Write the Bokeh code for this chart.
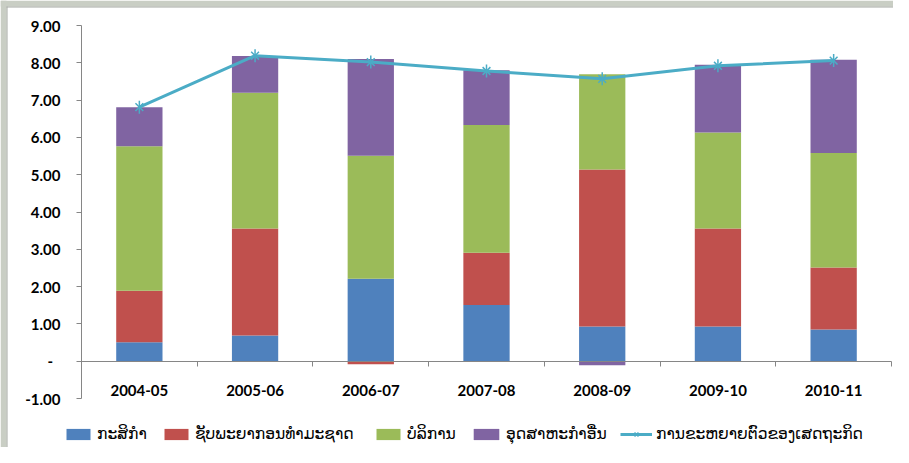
import numpy as np
from bokeh.plotting import figure
from bokeh.models import Range1d, FixedTicker, Legend, LegendItem, BoxAnnotation
from bokeh.embed import file_html
from bokeh.resources import INLINE

# ---- data ----
categories = ["2004-05", "2005-06", "2006-07", "2007-08", "2008-09", "2009-10", "2010-11"]
agriculture = [0.51, 0.69, 2.21, 1.51, 0.93, 0.93, 0.85]
natural_resources = [1.38, 2.87, -0.08, 1.40, 4.21, 2.63, 1.66]
services = [3.87, 3.64, 3.30, 3.42, 2.55, 2.57, 3.07]
other_industry = [1.05, 0.98, 2.59, 1.47, -0.11, 1.82, 2.50]
gdp_growth = [6.81, 8.19, 8.02, 7.78, 7.57, 7.92, 8.06]

series_names = ["ກະສິກຳ", "ຊັບພະຍາກອນທຳມະຊາດ", "ບໍລິການ", "ອຸດສາຫະກຳອື່ນ"]
line_name = "ການຂະຫຍາຍຕົວຂອງເສດຖະກິດ"
y_min, y_max = -1, 9
y_ticks = [-1, 0, 1, 2, 3, 4, 5, 6, 7, 8, 9]
y_tick_labels = ["-1.00", "-\u2002", "1.00", "2.00", "3.00", "4.00", "5.00",
                 "6.00", "7.00", "8.00", "9.00"]

# ---- style / layout (pixels) ----
bar_colors = ["#4F81BD", "#C0504D", "#9BBB59", "#8064A2"]
line_color = "#4BACC6"
axis_gray = "#868686"
frame_gray = "#C9CEC4"
frame_edge = "#A4A7A2"
tick_font = "Lato"
W, H = 893, 447
axis_left_px = 81          # y axis position
axis_top_px = 25           # y = 9 position
axis_h_px = 373            # height of the -1..9 span
cat_px = (W - axis_left_px - 2) / 7.0
band_px = 6

n = len(categories)
x = np.arange(n) + 0.5

px_per_unit = axis_h_px / (y_max - y_min)
y_top = y_max + axis_top_px / px_per_unit
y_bot = y_max - (H - axis_top_px) / px_per_unit
x_start = -axis_left_px / cat_px
x_end = (W - axis_left_px) / cat_px

p = figure(width=W, height=H,
           x_range=Range1d(x_start, x_end), y_range=Range1d(y_bot, y_top),
           output_backend="svg", toolbar_location=None,
           min_border_left=0, min_border_right=0,
           min_border_top=0, min_border_bottom=0)
p.background_fill_color = "white"
p.border_fill_color = "white"
p.outline_line_color = None
p.xgrid.visible = False
p.ygrid.visible = False

# grey chart-window frame on the top and left edges
bx = band_px / cat_px
by = band_px / px_per_unit
ex = 1 / cat_px
ey = 1 / px_per_unit
for l, r, b, t, c in [
    (x_start, x_start + bx, y_bot, y_top, frame_gray),
    (x_start, x_end, y_top - by, y_top, frame_gray),
    (x_start + bx, x_start + bx + ex, y_bot, y_top - by, frame_edge),
    (x_start + bx, x_end, y_top - by - ey, y_top - by, frame_edge),
]:
    p.add_layout(BoxAnnotation(left=l, right=r, bottom=b, top=t,
                               fill_color=c, fill_alpha=1.0, line_color=None))

# stacked bars (positives and negatives stacked separately, like Excel)
pos = np.zeros(n)
neg = np.zeros(n)
bar_renderers = []
for vals, color in zip([agriculture, natural_resources, services, other_industry], bar_colors):
    v = np.array(vals, dtype=float)
    bottom = np.where(v >= 0, pos, neg)
    top = bottom + v
    pos = np.where(v >= 0, top, pos)
    neg = np.where(v < 0, top, neg)
    r = p.vbar(x=x, bottom=bottom, top=top, width=0.4,
               fill_color=color, line_color=None)
    bar_renderers.append(r)

# growth line with star markers
rl = p.line(x, gdp_growth, line_color=line_color, line_width=3)
rx = p.scatter(x, gdp_growth, marker="x", size=11, line_color=line_color, line_width=1.5)
rd = p.scatter(x, gdp_growth, marker="dash", angle=np.pi / 2, size=13,
               line_color=line_color, line_width=1.5)

# x axis at zero with ticks at category boundaries
xa = p.xaxis[0]
xa.ticker = FixedTicker(ticks=list(x), minor_ticks=list(range(n + 1)))
xa.major_label_overrides = {float(xi): c for xi, c in zip(x, categories)}
xa.fixed_location = 0
xa.bounds = (0, n)
xa.axis_line_color = axis_gray
xa.major_tick_in = 0
xa.major_tick_out = 0
xa.minor_tick_in = 0
xa.minor_tick_out = 5
xa.minor_tick_line_color = axis_gray
xa.major_label_standoff = 19
xa.major_label_text_font = tick_font
xa.major_label_text_font_style = "bold"
xa.major_label_text_font_size = "15px"
xa.major_label_text_color = "black"

ya = p.yaxis[0]
ya.ticker = FixedTicker(ticks=y_ticks)
ya.major_label_overrides = {t: s for t, s in zip(y_ticks, y_tick_labels)}
ya.fixed_location = 0
ya.bounds = (y_min, y_max)
ya.axis_line_color = axis_gray
ya.major_tick_line_color = axis_gray
ya.major_tick_in = 0
ya.major_tick_out = 5
ya.minor_tick_line_color = None
ya.major_label_standoff = 16
ya.major_label_text_font = tick_font
ya.major_label_text_font_style = "bold"
ya.major_label_text_font_size = "15px"
ya.major_label_text_color = "black"

# one legend per item, placed like the original row
legend_x = [63, 161, 373, 470, 620]
legend_glyph_w = [30, 30, 30, 32, 32]
entries = list(zip(series_names, [[r] for r in bar_renderers])) + [(line_name, [rl, rx, rd])]
for (label, rends), lx, gw in zip(entries, legend_x, legend_glyph_w):
    lg = Legend(items=[LegendItem(label=label, renderers=rends)],
                location=(lx, 4), orientation="horizontal",
                padding=0, margin=0, border_line_color=None,
                background_fill_alpha=0, glyph_width=gw, glyph_height=14,
                label_standoff=4, label_height=14,
                label_text_font="DejaVu Sans", label_text_font_size="15.5px",
                label_text_color="black")
    p.add_layout(lg)

open("out.html", "w").write(file_html(p, INLINE))
